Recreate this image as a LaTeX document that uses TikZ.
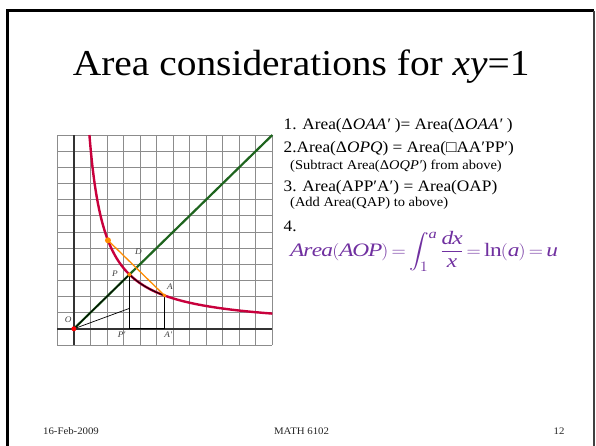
\documentclass[tikz,border=0pt]{standalone}
\usepackage{amsmath}
\usepackage{graphicx}
\usepackage{fontspec}
\setmainfont{Liberation Serif}[FakeStretch=1.08]
\definecolor{crim}{RGB}{200,0,60}
\definecolor{dgreen}{RGB}{30,100,30}
\definecolor{orng}{RGB}{255,140,0}
\definecolor{purp}{RGB}{112,48,160}
\definecolor{gridc}{RGB}{140,140,140}
\tikzset{
  txt/.style={anchor=base west, inner sep=0pt, font=\fontsize{16}{18}\selectfont},
  subtxt/.style={anchor=base west, inner sep=0pt, font=\fontsize{13.4}{15}\selectfont},
  foot/.style={anchor=base, inner sep=0pt, font=\fontsize{10}{12}\selectfont, text=black!85},
  lbl/.style={inner sep=0pt, font=\fontsize{8.5}{10}\selectfont\itshape, text=black!75},
  blk/.style={black, line width=0.9pt},
}
\begin{document}
\begin{tikzpicture}[x=1pt,y=-1pt]
\useasboundingbox (0,0) rectangle (596,446);
\fill[white] (0,0) rectangle (596,446);
% slide border
\draw[line width=3pt] (7.5,446) -- (7.5,10.7) -- (593.5,10.7);
\draw[line width=1.3pt, black!75] (594,10.7) -- (594,446);
% title
\node[anchor=base west, inner sep=0pt, font=\fontsize{36.5}{40}\selectfont] (title) at (72.7,76) {Area considerations for \textit{xy}=1};
% graph
\begin{scope}[shift={(73.85,328.8)}, x=16.54pt, y=16.15pt]
  \draw[gridc, line width=0.8pt, step=1] (-1,-1) grid (12,12);
  \draw[black!80, line width=1.6pt] (-1,0) -- (12,0);
  \draw[black!80, line width=1.6pt] (0,-1) -- (0,12);
  \coordinate (O) at (0,0);
  \coordinate (P) at (3.3615,3.3615);
  \coordinate (A) at (5.48,2.062);
  \coordinate (R) at (2.062,5.48);
  \coordinate (D) at (3.771,3.771);
  \coordinate (Q) at (3.3615,1.265);
  \coordinate (Pp) at (3.3615,0);
  \coordinate (Ap) at (5.48,0);
  \coordinate (E) at (12,12);
  \draw[dgreen, line width=2.2pt] (O) -- (E);
  \draw[crim, line width=2.4pt, domain=0.9417:12, samples=160, smooth] plot (\x,{11.3/\x});
  \draw[black!85!crim, line width=1.1pt, domain=3.3615:5.48, samples=40, smooth] plot (\x,{11.3/\x});
  \draw[blk] (O) -- (P);
  \draw[blk] (P) -- (Pp);
  \draw[blk] (A) -- (Ap);
  \draw[blk] (Pp) -- (Ap);
  \draw[blk, line width=0.7pt] (O) -- (Q);
  \draw[orng, line width=1.3pt] (R) -- (A);
  \fill[orng] (R) circle (3pt);
  \fill[orng] (P) circle (2pt);
  \fill[orng] (A) circle (1.8pt);
  \fill[red] (O) circle (2.5pt);
  \node[lbl] (lO) at (-0.34,0.55) {O};
  \node[lbl] (lP) at (2.49,3.44) {P};
  \node[lbl] (lD) at (3.9,4.77) {D};
  \node[lbl] (lA) at (5.81,2.61) {A};
  \node[lbl] (lPp) at (2.89,-0.38) {P′};
  \node[lbl] (lAp) at (5.71,-0.38) {A′};
\end{scope}
% statements
\node[txt] (s1) at (283.5,130) {1. Area(Δ\textit{OAA′} )= Area(Δ\textit{OAA′} )};
\node[txt] (s2) at (283.5,153) {2.Area(Δ\textit{OPQ}) = Area(□AA′PP′)};
\node[subtxt] (s2b) at (290,169.5) {(Subtract Area(Δ\textit{OQP′}) from above)};
\node[txt] (s3) at (283.5,191.5) {3. Area(APP′A′) = Area(OAP)};
\node[subtxt] (s3b) at (290,207) {(Add Area(QAP) to above)};
\node[txt] (s4) at (283.5,231) {4.};
\node[anchor=base west, inner sep=0pt, text=purp, font=\fontsize{19}{22}\selectfont] (f) at (290,256)
  {\resizebox{267pt}{\height}{$\displaystyle\thickmuskip=3mu\medmuskip=2mu
   \mathit{Area}(\mathit{AOP})=\int_{1}^{\mathit{a}}\frac{\mathit{dx}}{\mathit{x}}=\ln(\mathit{a})=\mathit{u}$}};
% footer
\node[foot] (d) at (71,434) {16-Feb-2009};
\node[foot] (m) at (301.5,434) {MATH 6102};
\node[foot] (n) at (559,434) {12};
\end{tikzpicture}
\end{document}
